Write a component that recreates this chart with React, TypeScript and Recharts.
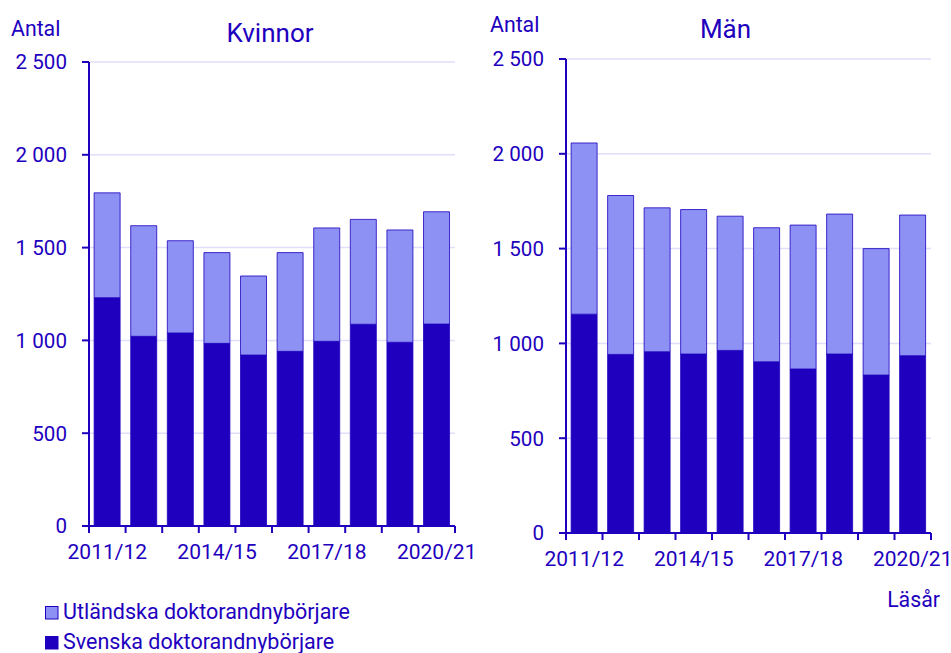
import React from "react";
import { BarChart, Bar, XAxis, YAxis, CartesianGrid } from "recharts";

const categories = ["2011/12","2012/13","2013/14","2014/15","2015/16","2016/17","2017/18","2018/19","2019/20","2020/21"];
const shownLabels = ["2011/12","2014/15","2017/18","2020/21"];
const yTicks = [0, 500, 1000, 1500, 2000, 2500];

const kvinnorSvenska = [1230, 1022, 1040, 984, 921, 941, 995, 1087, 990, 1088];
const kvinnorUtlandska = [565, 596, 497, 489, 426, 532, 611, 565, 605, 605];
const manSvenska = [1154, 942, 956, 944, 963, 903, 865, 944, 833, 935];
const manUtlandska = [903, 838, 759, 762, 708, 707, 759, 738, 667, 742];

const DARK = "#1e00be";
const LIGHT = "#8c91f3";
const GRID = "#e0defa";
const FONT = "Roboto, 'Noto Sans', sans-serif";

const kvinnorData = categories.map((c, i) => ({ year: c, sv: kvinnorSvenska[i], ut: kvinnorUtlandska[i] }));
const manData = categories.map((c, i) => ({ year: c, sv: manSvenska[i], ut: manUtlandska[i] }));

const fmt = (v: number) => v.toString().replace(/\B(?=(\d{3})+(?!\d))/g, " ");

const XTick = (props: any) => {
  const { x, y, payload, index, visibleTicksCount } = props;
  const half = payload && payload.offset ? payload.offset : 18;
  const last = index === (visibleTicksCount ?? categories.length) - 1;
  const showLabel = shownLabels.includes(payload.value);
  return (
    <g>
      <line x1={x - half} x2={x - half} y1={y} y2={y + 7} stroke={DARK} strokeWidth={2} />
      {last && <line x1={x + half} x2={x + half} y1={y} y2={y + 7} stroke={DARK} strokeWidth={2} />}
      {showLabel && (
        <text x={x} y={y + 33} textAnchor="middle" fill={DARK} fontSize={21} fontFamily={FONT}>
          {payload.value}
        </text>
      )}
    </g>
  );
};

const Panel = ({ data, width, height, margin, yWidth }: any) => (
  <BarChart width={width} height={height} data={data} margin={margin} barCategoryGap="14%">
    <CartesianGrid vertical={false} stroke={GRID} strokeWidth={1.5} />
    <XAxis
      dataKey="year"
      interval={0}
      tickLine={false}
      tickSize={0}
      tickMargin={0}
      height={40}
      axisLine={{ stroke: DARK, strokeWidth: 2 }}
      tick={<XTick />}
    />
    <YAxis
      domain={[0, 2500]}
      ticks={yTicks}
      width={yWidth}
      tickSize={7}
      tickMargin={15}
      tickFormatter={fmt}
      axisLine={{ stroke: DARK, strokeWidth: 2 }}
      tickLine={{ stroke: DARK, strokeWidth: 2 }}
      tick={{ fill: DARK, fontSize: 20.6, fontFamily: FONT }}
    />
    <Bar dataKey="sv" stackId="a" fill={DARK} stroke={DARK} strokeOpacity={0.8} strokeWidth={1} isAnimationActive={false} />
    <Bar dataKey="ut" stackId="a" fill={LIGHT} stroke={DARK} strokeOpacity={0.8} strokeWidth={1} isAnimationActive={false} />
  </BarChart>
);

export default function App() {
  return (
    <div style={{ position: "absolute", left: 0, top: 0, width: 951, height: 653, background: "#fff", fontFamily: FONT }}>
      <div style={{ position: "absolute", left: 0, top: 0 }}>
        <Panel data={kvinnorData} width={480} height={580} yWidth={89} margin={{ top: 62, right: 25, bottom: 14, left: 0 }} />
      </div>
      <div style={{ position: "absolute", left: 480, top: 0 }}>
        <Panel data={manData} width={471} height={580} yWidth={86} margin={{ top: 59, right: 20, bottom: 7, left: 0 }} />
      </div>
      <svg width={951} height={653} style={{ position: "absolute", left: 0, top: 0, pointerEvents: "none" }}>
        <g fontFamily={FONT} fill={DARK}>
          <text x={11} y={35.5} fontSize={21.3}>Antal</text>
          <text x={270} y={42} fontSize={26}>
            <tspan textAnchor="middle">Kvinnor</tspan>
          </text>
          <text x={490} y={31.5} fontSize={21.3}>Antal</text>
          <text x={725.5} y={38} fontSize={26} textAnchor="middle">Män</text>
          <text x={940} y={607} fontSize={21.3} textAnchor="end">Läsår</text>
          <rect x={45.5} y={606.5} width={12.5} height={12.5} fill={LIGHT} stroke={DARK} strokeWidth={1} />
          <text x={63} y={619} fontSize={21.5}>Utländska doktorandnybörjare</text>
          <rect x={45.5} y={636.5} width={12.5} height={12.5} fill={DARK} stroke={DARK} strokeWidth={1} />
          <text x={63} y={649} fontSize={21.5}>Svenska doktorandnybörjare</text>
        </g>
      </svg>
    </div>
  );
}
